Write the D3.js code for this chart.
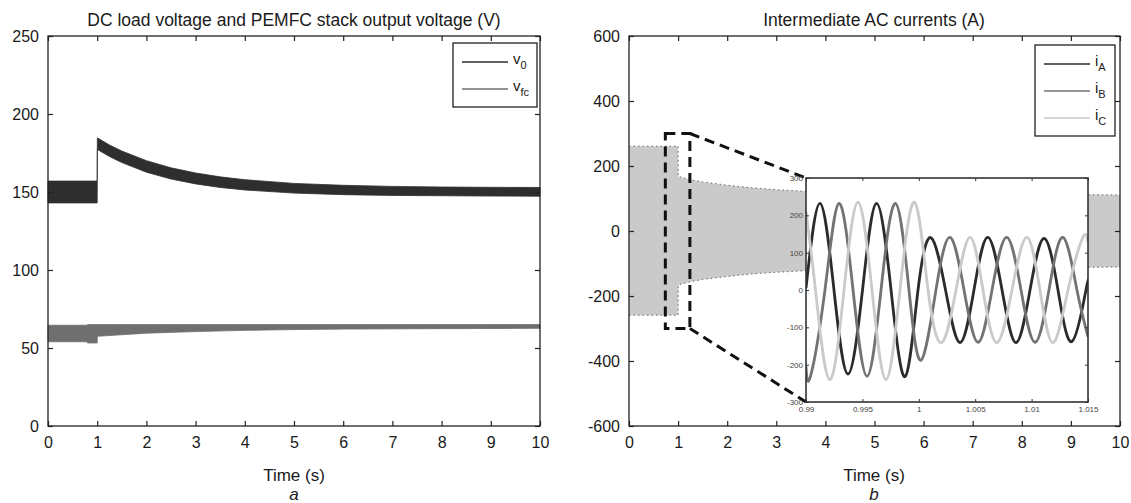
<!DOCTYPE html>
<html>
<head>
<meta charset="utf-8">
<script src="https://cdn.jsdelivr.net/npm/d3@7"></script>
<style>
  body { margin: 0; background: #fff; }
  svg text { font-family: "Liberation Sans", Arial, sans-serif; fill: #1a1a1a; }
</style>
</head>
<body>
<svg id="fig" width="1131" height="503"></svg>
<script>
// ---- tick labels
const timeTicks = [0, 1, 2, 3, 4, 5, 6, 7, 8, 9, 10];
const voltTicks = [0, 50, 100, 150, 200, 250];
const currTicks = [-600, -400, -200, 0, 200, 400, 600];
const insetTimeTicks = [0.99, 0.995, 1, 1.005, 1.01, 1.015];
const insetCurrTicks = [-300, -200, -100, 0, 100, 200, 300];

// ---- (a) DC load voltage v0 : ripple band envelope (V)
const v0Time = [0, 0.5, 1.0, 1.003, 1.25, 1.5, 2, 2.5, 3, 3.5, 4, 5, 6, 7, 8, 9, 10];
const v0Low  = [143, 143, 143, 177.3, 172.7, 168.9, 162.7, 158.3, 155.2, 152.9, 151.3, 149.3, 148.3, 147.8, 147.6, 147.4, 147.3];
const v0High = [157, 157, 157, 184.7, 180.1, 176.3, 170.1, 165.5, 162.2, 159.7, 157.9, 155.5, 154.3, 153.6, 153.2, 153.0, 152.9];

// ---- (a) PEMFC stack voltage vfc : ripple band envelope (V)
const vfcTime = [0, 0.8, 0.802, 1.0, 1.003, 1.5, 2, 3, 4, 5, 6, 8, 10];
const vfcLow  = [54, 54, 53.2, 53.2, 57.5, 58.5, 59.5, 60.5, 61.3, 61.8, 62.1, 62.4, 62.6];
const vfcHigh = [64.6, 64.6, 65, 65, 65, 65, 65, 65, 65, 65, 65, 65, 65];

// ---- (b) AC current envelope (A)
const envTime = [0, 1.0, 1.003, 1.25, 1.5, 2, 2.5, 3, 3.5, 4, 5, 6, 7, 8, 9, 10];
const envHigh = [261, 261, 168, 158, 151, 141, 133, 127, 123, 120, 116, 114, 113, 112, 112, 111];
const envLow  = [-259, -259, -166, -156, -149, -140, -132, -127, -123, -120, -116, -114, -113, -112, -112, -111];

// ---- (b) zoomed region marked on main axes
const zoomBox = { t0: 0.74, t1: 1.24, lo: -300, hi: 300 };

// ---- (b) inset: three phase currents, peaks / zero crossings (A)
const iATime = [0.99, 0.99124, 0.99248, 0.99372, 0.99501, 0.99625, 0.99754, 0.99878, 0.99993, 1.00108, 1.00237,
                1.00365, 1.00489, 1.00611, 1.00738, 1.00862, 1.00986, 1.0111, 1.01234, 1.01358, 1.01482, 1.015];
const iAVal  = [5, 232, 0, -225, 0, 232, 0, -232, 0, 140, 0, -141, 0, 141, 0, -141, 0, 138, 0, -138, 0, 15];

const iBTime = [0.99, 0.9904, 0.99168, 0.99293, 0.99417, 0.99541, 0.99665, 0.99793, 0.99913, 1.0002, 1.00152,
                1.00277, 1.00401, 1.00525, 1.00649, 1.00779, 1.00906, 1.0103, 1.01154, 1.01278, 1.01402, 1.015];
const iBVal  = [-205, -231, 0, 232, 0, -231, 0, 232, 0, -188, 0, 141, 0, -140, 0, 141, 0, -140, 0, 141, 0, -125];

const iCTime = [0.99, 0.99084, 0.99208, 0.99337, 0.99461, 0.99585, 0.99709, 0.99833, 0.99962, 1.00082, 1.00203,
                1.0033, 1.00454, 1.00569, 1.00691, 1.00826, 1.00957, 1.01074, 1.0119, 1.01323, 1.01453, 1.015];
const iCVal  = [210, 0, -240, 0, 235, 0, -240, 0, 235, 0, -141, 0, 141, 0, -141, 0, 141, 0, -141, 0, 140, 128];

const colA = '#2b2b2b', colB = '#737373', colC = '#cacaca';

const svg = d3.select('#fig');

const xL = d3.scaleLinear().domain([0, 10]).range([48, 540]);
const yL = d3.scaleLinear().domain([0, 250]).range([426, 36]);
const xR = d3.scaleLinear().domain([0, 10]).range([629, 1120]);
const yR = d3.scaleLinear().domain([-600, 600]).range([426, 36]);
const xI = d3.scaleLinear().domain([0.99, 1.015]).range([806, 1088]);
const yI = d3.scaleLinear().domain([-300, 300]).range([402, 178]);

const fmt = d => String(d);

function rows(ts, lo, hi) {
  return ts.map((t, i) => ({ t: t, lo: lo[i], hi: hi[i] }));
}

// axes with inward ticks on all four sides (matlab box)
function drawAxes(x, y, xt, yt, opts) {
  const [x0, x1] = x.range();
  const [y0, y1] = y.range();
  const g = svg.append('g');
  const ts = opts.tick;

  const styleAxis = sel => {
    sel.select('.domain').remove();
    sel.selectAll('line').attr('stroke', opts.color).attr('stroke-width', opts.width);
    sel.selectAll('text').attr('font-family', null).style('font-size', opts.font + 'px').style('fill', opts.textColor);
  };

  g.append('g').attr('transform', `translate(0,${y0})`)
    .call(d3.axisBottom(x).tickValues(xt).tickFormat(fmt).tickSizeInner(-ts).tickSizeOuter(0).tickPadding(opts.padX))
    .call(styleAxis);
  g.append('g').attr('transform', `translate(0,${y1})`)
    .call(d3.axisTop(x).tickValues(xt).tickFormat('').tickSizeInner(-ts).tickSizeOuter(0))
    .call(styleAxis);
  g.append('g').attr('transform', `translate(${x0},0)`)
    .call(d3.axisLeft(y).tickValues(yt).tickFormat(fmt).tickSizeInner(-ts).tickSizeOuter(0).tickPadding(opts.padY))
    .call(styleAxis);
  g.append('g').attr('transform', `translate(${x1},0)`)
    .call(d3.axisRight(y).tickValues(yt).tickFormat('').tickSizeInner(-ts).tickSizeOuter(0))
    .call(styleAxis);

  g.append('rect')
    .attr('x', x0).attr('y', y1)
    .attr('width', x1 - x0).attr('height', y0 - y1)
    .attr('fill', 'none').attr('stroke', opts.color).attr('stroke-width', opts.frame);
  return g;
}

function legend(x, y, w, entries) {
  const g = svg.append('g');
  const h = entries.length * 27 + 10;
  g.append('rect').attr('x', x).attr('y', y).attr('width', w).attr('height', h)
    .attr('fill', '#fff').attr('stroke', '#222').attr('stroke-width', 1.3);
  entries.forEach((e, i) => {
    const cy = y + 19 + i * 27;
    g.append('line').attr('x1', x + 9).attr('x2', x + 55).attr('y1', cy).attr('y2', cy)
      .attr('stroke', e.color).attr('stroke-width', 1.6);
    const t = g.append('text').attr('x', x + 60).attr('y', cy + 2).style('font-size', '15px');
    t.append('tspan').text(e.main);
    t.append('tspan').attr('dy', 5).style('font-size', '11px').text(e.sub);
  });
}

// ================= (a) =================
const areaL = d3.area().x(d => xL(d.t)).y0(d => yL(d.lo)).y1(d => yL(d.hi));

svg.append('path').datum(rows(vfcTime, vfcLow, vfcHigh))
  .attr('d', areaL).attr('fill', '#6f6f6f').attr('stroke', '#6f6f6f').attr('stroke-width', 0.8);
svg.append('path').datum(rows(v0Time, v0Low, v0High))
  .attr('d', areaL).attr('fill', '#2e2e2e').attr('stroke', '#2e2e2e').attr('stroke-width', 0.8);

drawAxes(xL, yL, timeTicks, voltTicks,
  { tick: 5, font: 16, padX: 11, padY: 9, color: '#222', width: 1.2, frame: 1.3, textColor: '#1a1a1a' });

svg.append('text').attr('x', 294).attr('y', 26).attr('text-anchor', 'middle')
  .style('font-size', '17.5px').text('DC load voltage and PEMFC stack output voltage (V)');
svg.append('text').attr('x', 294).attr('y', 481).attr('text-anchor', 'middle')
  .style('font-size', '17px').text('Time (s)');
svg.append('text').attr('x', 294).attr('y', 500).attr('text-anchor', 'middle')
  .style('font-size', '17px').style('font-style', 'italic').text('a');

legend(453, 43, 84, [
  { main: 'v', sub: '0', color: colA },
  { main: 'v', sub: 'fc', color: '#6f6f6f' }
]);

// ================= (b) =================
const areaR = d3.area().x(d => xR(d.t)).y0(d => yR(d.lo)).y1(d => yR(d.hi));
const envRows = rows(envTime, envLow, envHigh);

svg.append('path').datum(envRows).attr('d', areaR).attr('fill', colC);
['hi', 'lo'].forEach(k => {
  svg.append('path').datum(envRows)
    .attr('d', d3.line().x(d => xR(d.t)).y(d => yR(d[k])))
    .attr('fill', 'none').attr('stroke', '#666').attr('stroke-width', 1).attr('stroke-dasharray', '1.5,3');
});

// zoom box and connectors
const zb = svg.append('g').attr('fill', 'none').attr('stroke', '#111').attr('stroke-width', 3).attr('stroke-dasharray', '10,6');
zb.append('rect')
  .attr('x', xR(zoomBox.t0)).attr('y', yR(zoomBox.hi))
  .attr('width', xR(zoomBox.t1) - xR(zoomBox.t0)).attr('height', yR(zoomBox.lo) - yR(zoomBox.hi));
zb.append('line').attr('x1', xR(zoomBox.t1)).attr('y1', yR(zoomBox.hi)).attr('x2', xI.range()[0]).attr('y2', yI.range()[1]);
zb.append('line').attr('x1', xR(zoomBox.t1)).attr('y1', yR(zoomBox.lo)).attr('x2', xI.range()[0]).attr('y2', yI.range()[0]);

drawAxes(xR, yR, timeTicks, currTicks,
  { tick: 5, font: 16, padX: 11, padY: 9, color: '#222', width: 1.2, frame: 1.3, textColor: '#1a1a1a' });

// inset
svg.append('rect').attr('x', 806).attr('y', 178).attr('width', 1088 - 806).attr('height', 402 - 178).attr('fill', '#fff');
svg.append('clipPath').attr('id', 'inclip').append('rect')
  .attr('x', 806).attr('y', 178).attr('width', 1088 - 806).attr('height', 402 - 178);

const lineI = d3.line().x(d => xI(d.t)).y(d => yI(d.v)).curve(d3.curveNatural);
const phases = [
  { t: iATime, v: iAVal, c: colA },
  { t: iBTime, v: iBVal, c: colB },
  { t: iCTime, v: iCVal, c: colC }
];
const ig = svg.append('g').attr('clip-path', 'url(#inclip)');
phases.forEach(p => {
  ig.append('path').datum(p.t.map((t, i) => ({ t: t, v: p.v[i] })))
    .attr('d', lineI).attr('fill', 'none').attr('stroke', p.c).attr('stroke-width', 2.8);
});

drawAxes(xI, yI, insetTimeTicks, insetCurrTicks,
  { tick: 3, font: 8, padX: 4, padY: 3, color: '#333', width: 1, frame: 1.6, textColor: '#444' });

svg.append('text').attr('x', 874).attr('y', 26).attr('text-anchor', 'middle')
  .style('font-size', '17.5px').text('Intermediate AC currents (A)');
svg.append('text').attr('x', 874).attr('y', 481).attr('text-anchor', 'middle')
  .style('font-size', '17px').text('Time (s)');
svg.append('text').attr('x', 874).attr('y', 500).attr('text-anchor', 'middle')
  .style('font-size', '17px').style('font-style', 'italic').text('b');

legend(1035, 45, 80, [
  { main: 'i', sub: 'A', color: colA },
  { main: 'i', sub: 'B', color: colB },
  { main: 'i', sub: 'C', color: colC }
]);
</script>
</body>
</html>
